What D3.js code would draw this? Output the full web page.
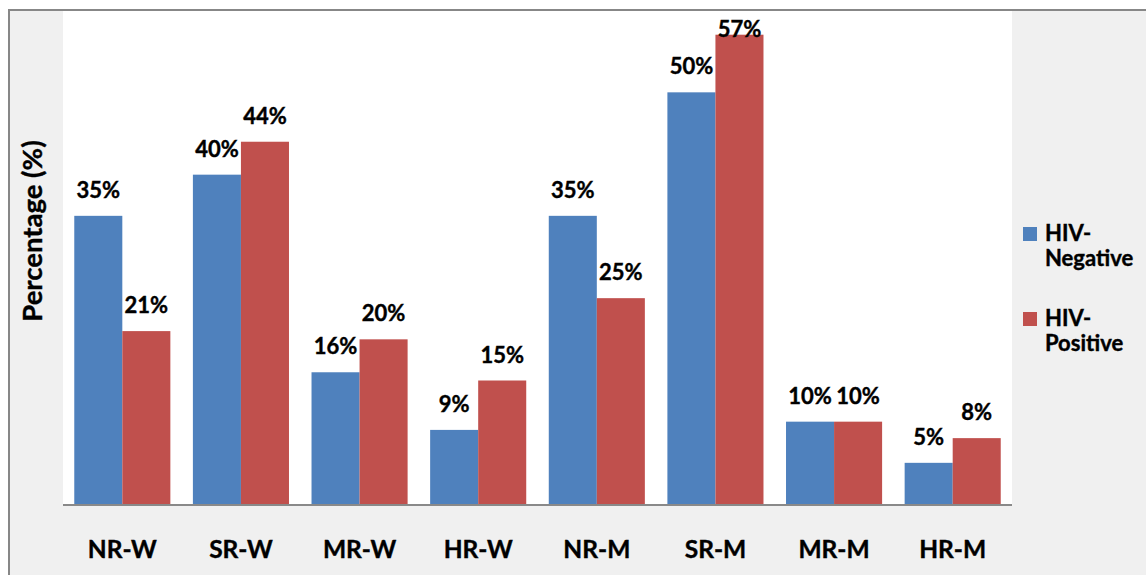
<!DOCTYPE html>
<html>
<head>
<meta charset="utf-8">
<script src="https://cdn.jsdelivr.net/npm/d3@7"></script>
<style>
  html, body { margin: 0; padding: 0; background: #ffffff; }
  svg { display: block; }
  text { font-family: Lato, "Open Sans", sans-serif; font-weight: 700; fill: #000; }
</style>
</head>
<body>
<svg id="chart" width="1146" height="575"></svg>
<script>
// Share of each group, HIV-negative vs HIV-positive (%)
const categories = ["NR-W", "SR-W", "MR-W", "HR-W", "NR-M", "SR-M", "MR-M", "HR-M"];
const seriesNames = ["HIV-Negative", "HIV-Positive"];
const hivNegative = [35, 40, 16, 9, 35, 50, 10, 5];
const hivPositive = [21, 44, 20, 15, 25, 57, 10, 8];
const yDomain = [0, 60];
const colors = ["#4f81bd", "#c0504d"];

const seriesValues = [hivNegative, hivPositive];
const rows = categories.map((c, i) => ({
  category: c,
  values: seriesNames.map((s, k) => ({ series: s, key: k, value: seriesValues[k][i] }))
}));

const svg = d3.select("#chart");
const W = 1146, H = 575;

// chart frame
svg.append("rect")
  .attr("x", 9).attr("y", 10).attr("width", W).attr("height", H)
  .attr("fill", "#f0f0f0");
svg.append("line")
  .attr("x1", 9).attr("x2", W).attr("y1", 10).attr("y2", 10)
  .attr("stroke", "#878787").attr("stroke-width", 2);
svg.append("line")
  .attr("x1", 9).attr("x2", 9).attr("y1", 9).attr("y2", H)
  .attr("stroke", "#878787").attr("stroke-width", 2);

const plot = { left: 63, right: 1012, top: 11, bottom: 504 };

// plot area
svg.append("rect")
  .attr("x", plot.left).attr("y", plot.top)
  .attr("width", plot.right - plot.left).attr("height", plot.bottom - plot.top)
  .attr("fill", "#ffffff");

const x = d3.scaleBand()
  .domain(categories)
  .range([plot.left, plot.right])
  .paddingInner(0.19)
  .paddingOuter(0.095);

const xs = d3.scaleBand()
  .domain(seriesNames)
  .range([0, x.bandwidth()]);

const y = d3.scaleLinear()
  .domain(yDomain)
  .range([plot.bottom, plot.top - 1]);

const groups = svg.append("g").selectAll("g")
  .data(rows)
  .join("g")
  .attr("transform", d => `translate(${x(d.category)},0)`);

groups.selectAll("rect")
  .data(d => d.values)
  .join("rect")
  .attr("x", d => xs(d.series))
  .attr("y", d => y(d.value))
  .attr("width", xs.bandwidth())
  .attr("height", d => y(0) - y(d.value))
  .attr("fill", d => colors[d.key]);

// value labels above each bar, kept inside the plot area
groups.selectAll("text.value")
  .data(d => d.values)
  .join("text")
  .attr("class", "value")
  .attr("x", d => xs(d.series) + xs.bandwidth() / 2)
  .attr("y", d => Math.max(y(d.value) - 18, plot.top + 26))
  .attr("text-anchor", "middle")
  .style("font-size", "22px")
  .style("stroke", "#000").style("stroke-width", 0.4)
  .text(d => d.value + "%");

// category axis
const xAxis = svg.append("g")
  .attr("transform", `translate(0,${plot.bottom + 1})`)
  .call(d3.axisBottom(x).tickSize(0).tickPadding(0));
xAxis.select(".domain")
  .attr("d", `M${plot.left},0H${plot.right}`)
  .attr("stroke", "#898989").attr("stroke-width", 2);
xAxis.selectAll(".tick text")
  .attr("dy", null)
  .attr("y", 53)
  .style("font-size", "24.5px")
  .style("font-family", "Lato, 'Open Sans', sans-serif")
  .style("font-weight", 700)
  .style("stroke", "#000").style("stroke-width", 0.4)
  .attr("fill", "#000");

// y-axis title
svg.append("text")
  .attr("transform", "translate(42,231) rotate(-90)")
  .attr("text-anchor", "middle")
  .style("font-size", "27.5px")
  .style("stroke", "#000").style("stroke-width", 0.4)
  .text("Percentage (%)");

// legend: swatch plus a two-line label per series
const legend = svg.append("g").selectAll("g")
  .data(seriesNames)
  .join("g")
  .attr("transform", (d, i) => `translate(1023,${227 + i * 85})`);
legend.append("rect")
  .attr("width", 14).attr("height", 14)
  .attr("fill", (d, i) => colors[i]);
[0, 1].forEach(line => {
  legend.append("text")
    .attr("x", 22)
    .attr("y", 14 + line * 25)
    .style("font-size", "22px")
    .style("stroke", "#000").style("stroke-width", 0.4)
    .text(d => line === 0 ? d.split("-")[0] + "-" : d.split("-")[1]);
});
</script>
</body>
</html>
